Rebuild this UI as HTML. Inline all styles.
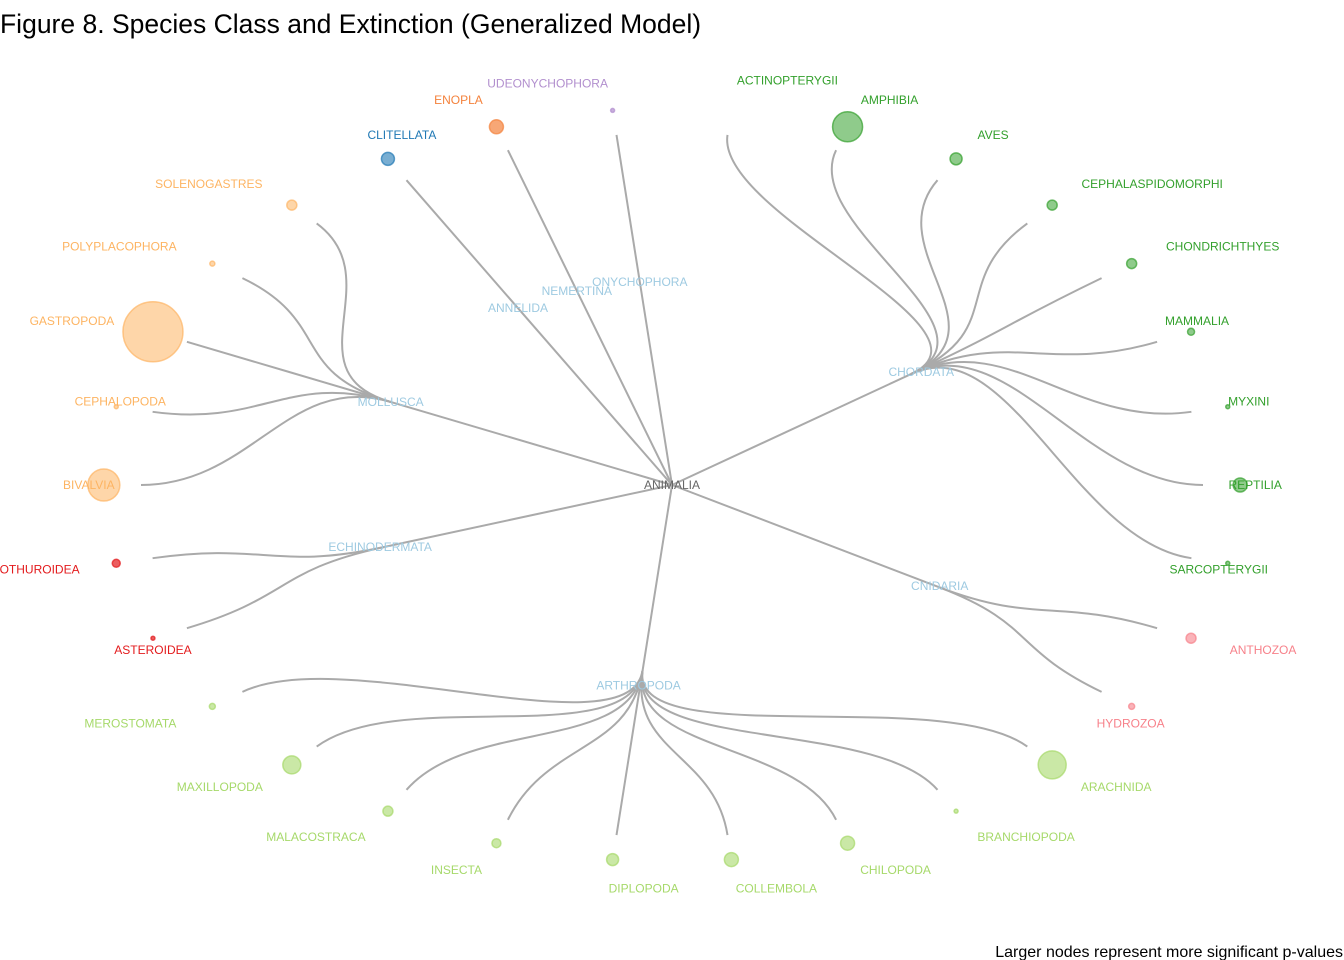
<!DOCTYPE html>
<html><head><meta charset="utf-8"><style>
html,body{margin:0;padding:0;background:#fff;width:1344px;height:960px;overflow:hidden}
svg{display:block;font-family:"Liberation Sans",Arial,sans-serif}
</style></head><body>
<svg id="chart" width="1344" height="960">
<text x="0" y="33" font-size="26.5" fill="#000">Figure 8. Species Class and Extinction (Generalized Model)</text>
<text x="1343" y="957" font-size="16" text-anchor="end" fill="#000">Larger nodes represent more significant p-values</text>
<g id="edges"></g>
<g id="nodes"></g>
<g id="labels"></g>
</svg>
<script>
// ---- data ----
const phyla = ["MOLLUSCA","CHORDATA","ARTHROPODA","ECHINODERMATA","CNIDARIA","ANNELIDA","NEMERTINA","ONYCHOPHORA"];
const phylumAngle = [204, 325, 96, 162, 30, 240, 252, 264];
const phylumRadius = [0.58, 0.55, 0.53, 0.57, 0.58, 0.58, 0.58, 0.58];
const phylumLabelOffset = [[0,4],[10,2],[-4,19],[-4,4],[1,3],[0,4],[0,4],[0,4]];
const classes = ["REPTILIA","SARCOPTERYGII","ANTHOZOA","HYDROZOA","ARACHNIDA","BRANCHIOPODA","CHILOPODA","COLLEMBOLA","DIPLOPODA","INSECTA","MALACOSTRACA","MAXILLOPODA","MEROSTOMATA","ASTEROIDEA","HOLOTHUROIDEA","BIVALVIA","CEPHALOPODA","GASTROPODA","POLYPLACOPHORA","SOLENOGASTRES","CLITELLATA","ENOPLA","UDEONYCHOPHORA","ACTINOPTERYGII","AMPHIBIA","AVES","CEPHALASPIDOMORPHI","CHONDRICHTHYES","MAMMALIA","MYXINI"];
const classPhylum = [1,1,4,4,2,2,2,2,2,2,2,2,2,3,3,0,0,0,0,0,5,6,7,1,1,1,1,1,1,1];
const classAngle = [0,12,24,36,48,60,72,84,96,108,120,132,144,156,168,180,192,204,216,228,240,252,264,276,288,300,312,324,336,348];
const nodeSize = [7,2,5,3,14,2,7,7,6,4.5,5,9,3,2,4,16,2,30,2.5,5,6.5,7,2,0,15,6,5,5,3.5,2];
const labelOffset = [[15,4],[-9,10],[72,16],[-1,21],[64,26],[70,30],[48,31],[45,33],[31,33],[-40,31],[-72,30],[-72,26],[-82,21],[0,16],[-89,10],[-15,4],[4,-1],[-81,-7],[-93,-13],[-83,-17],[14,-20],[-38,-23],[-65,-23],[56,-26],[42,-23],[37,-20],[100,-17],[91,-13],[6,-7],[21,-1]];
const phylumColor = ["#fdb462","#33a02c","#a6d96a","#e31a1c","#f7818a","#1f78b4","#f4823c","#b28fce"];
const phylumFill = ["rgba(253,180,98,0.55)","rgba(51,160,44,0.55)","rgba(166,217,106,0.6)","rgba(227,26,28,0.7)","rgba(247,129,138,0.6)","rgba(31,120,180,0.6)","rgba(244,130,60,0.7)","rgba(178,143,206,0.7)"];
// ---- scales ----
const cx=672, cy=485, rx=531, ry=352;
const LEAF=1.0, NODE=1.07;
function px(a,r){return cx+rx*r*Math.cos(a*Math.PI/180);}
function py(a,r){return cy+ry*r*Math.sin(a*Math.PI/180);}
const NS="http://www.w3.org/2000/svg";
const gE=document.getElementById('edges'), gN=document.getElementById('nodes'), gL=document.getElementById('labels');
function mk(tag,attrs,parent){const e=document.createElementNS(NS,tag);for(const k in attrs)e.setAttribute(k,attrs[k]);parent.appendChild(e);return e;}
phyla.forEach((p,i)=>{
  const single = classPhylum.filter(c=>c===i).length===1;
  if(single) return;
  const H=phylumRadius[i];
  const e=mk('path',{d:`M${cx},${cy}L${px(phylumAngle[i],H)},${py(phylumAngle[i],H)}`,stroke:'#aaa','stroke-width':2,fill:'none'},gE);
  
  
});
classes.forEach((c,i)=>{
  const p=classPhylum[i], a1=phylumAngle[p], a2=classAngle[i], H=phylumRadius[p];
  const single = classPhylum.filter(x=>x===p).length===1;
  let d;
  if(single){ d=`M${cx},${cy}L${px(a2,LEAF)},${py(a2,LEAF)}`; }
  else {
    const rm=(H+LEAF)/2;
    d=`M${px(a1,H)},${py(a1,H)}C${px(a1,rm)},${py(a1,rm)} ${px(a2,rm)},${py(a2,rm)} ${px(a2,LEAF)},${py(a2,LEAF)}`;
  }
  const e=mk('path',{d:d,stroke:'#aaa','stroke-width':2,fill:'none'},gE);
  
  
  if(nodeSize[i]>0){
    const n=mk('circle',{cx:px(a2,NODE),cy:py(a2,NODE),r:nodeSize[i],fill:phylumFill[p],stroke:phylumColor[p],'stroke-width':1.5,'stroke-opacity':0.7},gN);
    
    
  }
  const t=mk('text',{x:px(a2,NODE)+labelOffset[i][0],y:py(a2,NODE)+labelOffset[i][1],'font-size':12,'text-anchor':'middle',fill:phylumColor[p]},gL);
  t.textContent=c;
  
  
});
phyla.forEach((p,i)=>{
  const H=phylumRadius[i];
  const t=mk('text',{x:px(phylumAngle[i],H)+phylumLabelOffset[i][0],y:py(phylumAngle[i],H)+phylumLabelOffset[i][1],'font-size':12,'text-anchor':'middle',fill:'#9ecae1'},gL);
  t.textContent=p;
  
  
});
const root=mk('text',{x:cx,y:cy+4,'font-size':12,'text-anchor':'middle',fill:'#666'},gL);
root.textContent='ANIMALIA';


</script>
</body></html>
